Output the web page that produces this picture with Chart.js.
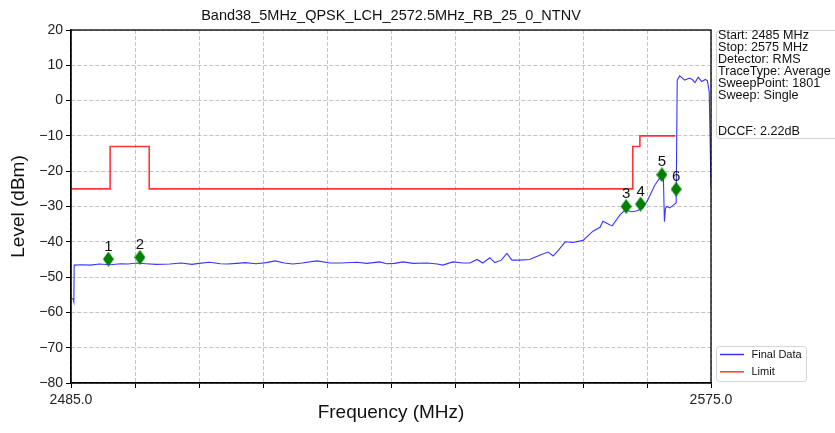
<!DOCTYPE html>
<html>
<head>
<meta charset="utf-8">
<script src="https://cdn.jsdelivr.net/npm/chart.js@4/dist/chart.umd.min.js"></script>
<style>
  body { margin: 0; background: #fff; }
  canvas { display: block; }
</style>
</head>
<body>
<canvas id="spectrumChart" width="835" height="433"></canvas>
<script>
const chartTitle = 'Band38_5MHz_QPSK_LCH_2572.5MHz_RB_25_0_NTNV';

// trace (MHz, dBm)
const traceFreq = [
  2485.0, 2485.3, 2485.4, 2485.45, 2486.5, 2487.7, 2489.0, 2490.5, 2492.0, 2493.0,
  2494.3, 2495.5, 2497.0, 2498.9, 2500.5, 2502.0, 2503.0, 2504.5, 2506.0, 2507.0,
  2508.3, 2509.5, 2511.0, 2512.5, 2513.7, 2515.0, 2516.2, 2517.5, 2519.6, 2521.4,
  2523.0, 2525.2, 2526.6, 2528.4, 2529.4, 2530.5, 2531.7, 2533.1, 2535.1, 2536.5,
  2537.3, 2538.7, 2540.1, 2541.1, 2542.1, 2542.9, 2543.9, 2544.6, 2545.5, 2546.3,
  2547.0, 2548.1, 2549.5, 2550.9, 2552.1, 2552.8, 2553.5, 2554.5, 2555.6, 2557.0,
  2558.4, 2559.4, 2559.8, 2560.4, 2561.1, 2562.2, 2562.9, 2563.9, 2564.6, 2565.4,
  2566.1, 2567.1, 2567.8, 2568.3, 2568.45, 2568.6, 2568.8, 2569.2, 2569.7, 2570.1,
  2570.25, 2570.6, 2571.3, 2572.0, 2572.4, 2572.75, 2573.2, 2573.7, 2574.2, 2574.5,
  2574.75, 2575.0
];
const traceLevel = [
  -56.0, -56.2, -57.0, -46.6, -46.5, -46.6, -46.3, -46.5, -46.2, -46.3,
  -46.0, -46.2, -46.4, -46.3, -46.0, -46.4, -46.1, -45.8, -46.2, -46.3,
  -46.1, -45.9, -46.2, -45.9, -45.4, -46.0, -46.3, -46.0, -45.4, -46.0,
  -46.0, -45.8, -46.1, -45.7, -46.2, -46.1, -45.7, -46.1, -46.0, -46.3,
  -46.6, -45.7, -46.0, -46.0, -45.0, -46.0, -44.5, -45.9, -45.2, -43.3,
  -45.2, -45.2, -45.0, -43.8, -42.9, -44.0, -42.5, -40.0, -40.2, -39.6,
  -37.0, -35.9, -34.2, -34.8, -35.5, -32.4, -31.0, -31.5, -31.2, -30.5,
  -28.2, -23.9, -22.0, -21.5, -34.3, -30.5, -30.0, -30.4, -29.6, -29.0,
  5.8, 7.0, 5.8, 6.4, 5.9, 5.1, 6.6, 5.4, 6.0, 5.6,
  2.5, -24.5
];

// limit mask, each value holds until the next frequency
const limitFreq = [2485, 2490.5, 2496, 2564, 2565, 2570];
const limitLevel = [-25, -13, -25, -13, -10, -10];

const markerFreq = [2490.25, 2494.7, 2563.06, 2565.1, 2568.1, 2570.1];
const markerLevel = [-44.9, -44.4, -30.0, -29.3, -21.0, -25.1];
const markerNames = ['1', '2', '3', '4', '5', '6'];

const xTickValues = [2485, 2494, 2503, 2512, 2521, 2530, 2539, 2548, 2557, 2566, 2575];
const xTickLabels = ['2485.0', '', '', '', '', '', '', '', '', '', '2575.0'];

const infoLines = [
  'Start: 2485 MHz', 'Stop: 2575 MHz', 'Detector: RMS', 'TraceType: Average',
  'SweepPoint: 1801', 'Sweep: Single', '', '', 'DCCF: 2.22dB'
];

const FONT = "'Liberation Sans', Arial, sans-serif";

function makeDiamond() {
  const c = document.createElement('canvas');
  c.width = 11;
  c.height = 15;
  const g = c.getContext('2d');
  g.fillStyle = '#008000';
  g.beginPath();
  g.moveTo(5.5, 0);
  g.lineTo(11, 7.5);
  g.lineTo(5.5, 15);
  g.lineTo(0, 7.5);
  g.closePath();
  g.fill();
  return c;
}

const decorPlugin = {
  id: 'decor',
  afterDraw(chart) {
    const ctx = chart.ctx;
    const area = chart.chartArea;
    ctx.save();

    // frame around plot
    ctx.setLineDash([]);
    ctx.strokeStyle = '#000';
    ctx.lineWidth = 1.3;
    ctx.strokeRect(area.left, area.top, area.right - area.left, area.bottom - area.top);

    // title
    ctx.fillStyle = '#111';
    ctx.font = '14.5px ' + FONT;
    ctx.textAlign = 'center';
    ctx.textBaseline = 'alphabetic';
    ctx.fillText(chartTitle, (area.left + area.right) / 2, 20);

    // marker numbers
    ctx.font = '15px ' + FONT;
    const meta = chart.getDatasetMeta(2);
    meta.data.forEach((pt, i) => {
      ctx.fillText(markerNames[i], pt.x, pt.y - 8.5);
    });

    // info box
    ctx.fillStyle = '#fff';
    ctx.strokeStyle = '#cfcfcf';
    ctx.lineWidth = 1;
    ctx.beginPath();
    ctx.roundRect(716.5, 30.5, 130, 108, 3);
    ctx.fill();
    ctx.stroke();
    ctx.fillStyle = '#111';
    ctx.font = '12.6px ' + FONT;
    ctx.textAlign = 'left';
    ctx.textBaseline = 'middle';
    infoLines.forEach((t, i) => ctx.fillText(t, 718, 36 + i * 11.9));

    // legend
    ctx.fillStyle = '#fff';
    ctx.strokeStyle = '#d5d5d5';
    ctx.beginPath();
    ctx.roundRect(716.5, 346.5, 90, 35, 3);
    ctx.fill();
    ctx.stroke();
    ctx.font = '11px ' + FONT;
    [0, 1].forEach((di, i) => {
      const ds = chart.data.datasets[di];
      const y = 354.5 + i * 17.3;
      ctx.strokeStyle = ds.borderColor;
      ctx.lineWidth = 1.5;
      ctx.beginPath();
      ctx.moveTo(720, y);
      ctx.lineTo(744, y);
      ctx.stroke();
      ctx.fillStyle = '#111';
      ctx.fillText(ds.label, 751.5, y);
    });

    ctx.restore();
  }
};

const diamond = makeDiamond();

const gridOpts = {
  color: '#b5b5b5',
  lineWidth: 0.8,
  borderDash: [4, 2],
  tickColor: '#000',
  tickLength: 5,
  tickWidth: 1,
  tickBorderDash: []
};

new Chart(document.getElementById('spectrumChart'), {
  type: 'line',
  data: {
    datasets: [
      {
        label: 'Final Data',
        data: traceFreq.map((f, i) => ({ x: f, y: traceLevel[i] })),
        borderColor: 'rgba(20, 20, 255, 0.85)',
        borderWidth: 1.1,
        pointRadius: 0,
        tension: 0,
        order: 2
      },
      {
        label: 'Limit',
        data: limitFreq.map((f, i) => ({ x: f, y: limitLevel[i] })),
        borderColor: 'rgba(255, 20, 20, 0.85)',
        borderWidth: 1.6,
        pointRadius: 0,
        stepped: true,
        order: 1
      },
      {
        label: 'Markers',
        data: markerFreq.map((f, i) => ({ x: f, y: markerLevel[i] })),
        showLine: false,
        pointStyle: diamond,
        pointRadius: 6,
        order: 0
      }
    ]
  },
  options: {
    responsive: false,
    animation: false,
    events: [],
    layout: { padding: { top: 30, right: 124, left: 0, bottom: 0 } },
    plugins: {
      legend: { display: false },
      tooltip: { enabled: false },
      title: { display: false }
    },
    scales: {
      x: {
        type: 'linear',
        min: 2485,
        max: 2575,
        afterFit: s => { s.height = 50; },
        afterBuildTicks: s => { s.ticks = xTickValues.map(v => ({ value: v })); },
        ticks: {
          autoSkip: false,
          maxRotation: 0,
          padding: 4,
          color: '#222',
          font: { family: FONT, size: 14 },
          callback: v => xTickLabels[xTickValues.indexOf(v)]
        },
        grid: gridOpts,
        border: { color: '#000', width: 1.3, dash: [4, 2] },
        title: {
          display: true,
          text: 'Frequency (MHz)',
          color: '#111',
          font: { family: FONT, size: 19 },
          padding: { top: 0, bottom: 8.6 }
        }
      },
      y: {
        min: -80,
        max: 20,
        afterFit: s => { s.width = 71; },
        ticks: {
          stepSize: 10,
          padding: 3,
          color: '#222',
          font: { family: FONT, size: 14 },
          callback: v => String(v).replace('-', '\u2212')
        },
        grid: gridOpts,
        border: { color: '#000', width: 1.3, dash: [4, 2] },
        title: {
          display: true,
          text: 'Level (dBm)',
          color: '#111',
          font: { family: FONT, size: 19 },
          padding: { top: 7.6, bottom: 0 }
        }
      }
    }
  },
  plugins: [decorPlugin]
});
</script>
</body>
</html>
